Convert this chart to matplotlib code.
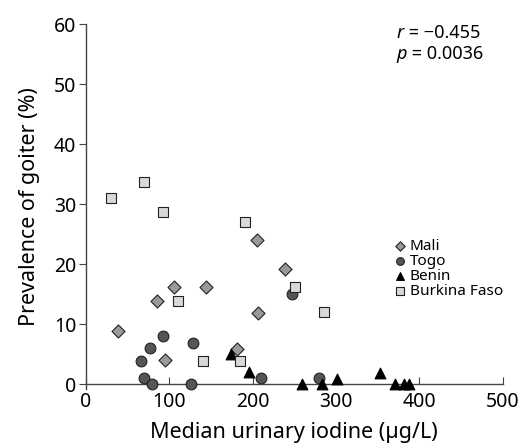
import matplotlib
matplotlib.use("Agg")
import matplotlib.pyplot as plt

plt.rcParams['font.family'] = ['Noto Sans', 'DejaVu Sans']

# data: median urinary iodine (ug/L) vs goiter prevalence (%)
mali_x = [38, 85, 106, 144, 95, 205, 239, 206, 181]
mali_y = [8.8, 13.9, 16.2, 16.2, 4.0, 24.1, 19.2, 11.8, 5.9]

togo_x = [66, 77, 92, 70, 79, 128, 126, 210, 247, 280]
togo_y = [3.8, 6.0, 8.0, 1.0, 0.0, 6.8, 0.0, 1.0, 15.0, 1.0]

benin_x = [174, 196, 259, 283, 301, 353, 371, 382, 387]
benin_y = [5.1, 2.0, 0.0, 0.0, 0.8, 1.9, 0.0, 0.0, 0.0]

burkina_x = [30, 70, 92, 191, 251, 110, 141, 185, 286]
burkina_y = [31.0, 33.7, 28.7, 27.0, 16.2, 13.8, 3.9, 3.9, 12.0]

fig = plt.figure(figsize=(5.27, 4.46), dpi=100)
ax = fig.add_axes([0.163, 0.128, 0.791, 0.818])

ms = 60
ax.scatter(mali_x, mali_y, marker='D', s=44, c='#999999', edgecolors='#222222',
           linewidths=0.8, label='Mali', clip_on=False, zorder=3)
ax.scatter(togo_x, togo_y, marker='o', s=ms, c='#555555', edgecolors='#222222',
           linewidths=0.8, label='Togo', clip_on=False, zorder=3)
ax.scatter(benin_x, benin_y, marker='^', s=ms, c='black', edgecolors='black',
           linewidths=0.8, label='Benin', clip_on=False, zorder=3)
ax.scatter(burkina_x, burkina_y, marker='s', s=ms, c='#d9d9d9', edgecolors='#222222',
           linewidths=0.8, label='Burkina Faso', clip_on=False, zorder=3)

ax.set_xlim(0, 500)
ax.set_ylim(-0.8, 60)
ax.set_xticks([0, 100, 200, 300, 400, 500])
ax.set_yticks([0, 10, 20, 30, 40, 50, 60])

ax.spines['top'].set_visible(False)
ax.spines['right'].set_visible(False)
ax.spines['bottom'].set_position(('data', 0))
for s in ['left', 'bottom']:
    ax.spines[s].set_color('#444444')
    ax.spines[s].set_linewidth(1.0)

ax.tick_params(axis='x', direction='in', length=5, color='#444444', labelsize=14, pad=6)
ax.tick_params(axis='y', direction='out', length=5, color='#444444', labelsize=14, pad=2)

ax.set_xlabel('Median urinary iodine (µg/L)', fontsize=15.5, labelpad=7)
ax.set_ylabel('Prevalence of goiter (%)', fontsize=15.5, labelpad=10)

# italic statistic symbol followed by upright value
for sym, val, ypos in [('r', ' = \u22120.455', 0.975), ('p', ' = 0.0036', 0.918)]:
    t = ax.text(0.746, ypos, sym, style='italic', transform=ax.transAxes,
                fontsize=13, va='center')
    ax.annotate(val, xy=(1, 0.5), xycoords=t, fontsize=13, va='center')

ax.legend(loc='upper left', bbox_to_anchor=(0.736, 0.41), frameon=False, fontsize=11,
          handletextpad=0.1, labelspacing=0.0, markerscale=0.72, borderpad=0,
          handlelength=1.0, borderaxespad=0)

fig.savefig('out.png', dpi=100)
